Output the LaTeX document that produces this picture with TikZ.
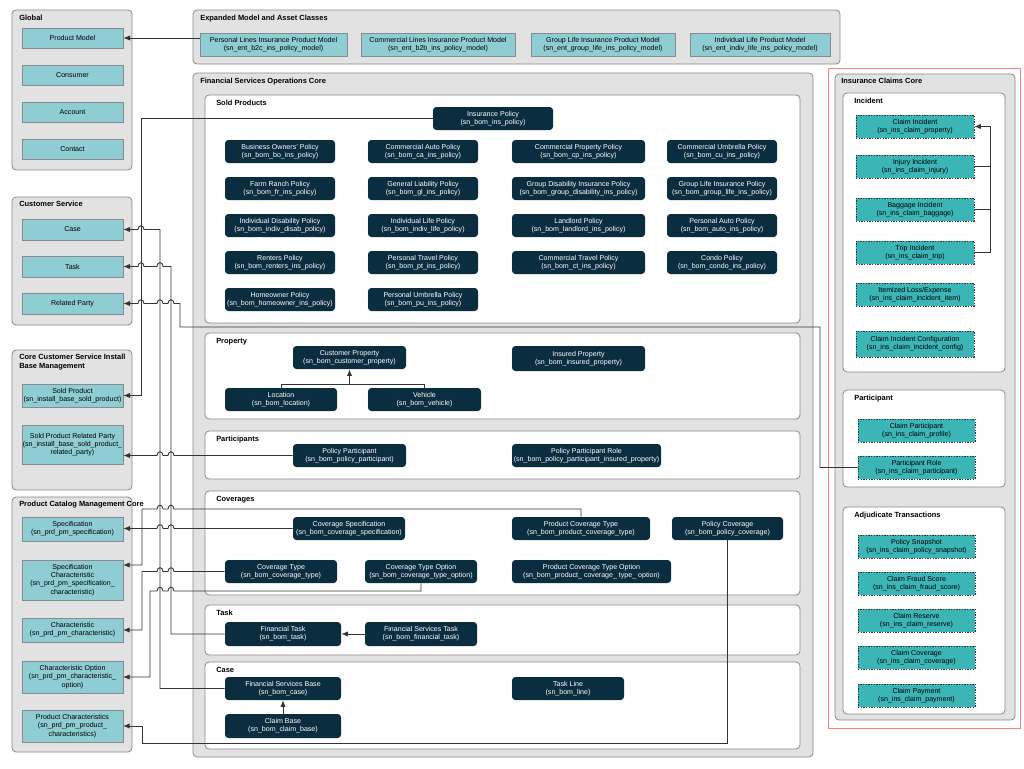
\documentclass[tikz,border=0pt]{standalone}
\usepackage{fontspec}
\setmainfont{Liberation Sans}
\usetikzlibrary{arrows.meta}
\definecolor{dk}{HTML}{0B2D40}
\definecolor{lt}{HTML}{8ECDD4}
\definecolor{ct}{HTML}{3BB5B5}
\definecolor{gp}{HTML}{E2E2E2}
\definecolor{bd}{HTML}{8A8A8A}
\definecolor{ln}{HTML}{333333}
\tikzset{
 grp/.style={draw=bd,fill=gp,rounded corners=3pt,line width=0.6pt},
 sub/.style={draw=bd,fill=white,rounded corners=3pt,line width=0.6pt},
 ttl/.style={anchor=north west,inner sep=0pt,font=\fontsize{5.6}{6.6}\selectfont\bfseries,align=left},
 base/.style={inner sep=0pt,align=center,font=\fontsize{5.3}{6.2}\selectfont},
 dkb/.style={base,fill=dk,text=white,rounded corners=2.5pt},
 ltb/.style={base,fill=lt,draw=bd,line width=0.5pt},
 ctb/.style={base,fill=ct,draw=ln,dashed,dash pattern=on 1pt off 1pt,line width=0.4pt},
 con/.style={draw=ln,line width=0.7pt},
 arr/.style={con,-{Latex[length=5pt,width=4pt]}},
}
\newcommand\bx[7]{\node[#1,minimum width={(#5-#3)*0.75pt},minimum height={(#6-#4)*0.75pt}] (#2) at ({(#3+#5)/2},{(#4+#6)/2}) {#7};}
\newcommand\hp[2]{-- ({#1+3},#2) .. controls ({#1+3},{#2-5}) and ({#1-3},{#2-5}) .. ({#1-3},#2)}
\begin{document}
\begin{tikzpicture}[x=0.75pt,y=-0.75pt]
\useasboundingbox[fill=white] (0,0) rectangle (1024,768);
% groups
\draw[grp] (12,10) rectangle (132,170); \node[ttl] (tg) at (19,15) {Global};
\draw[grp] (12,197) rectangle (132,325); \node[ttl] (tcs) at (19,201) {Customer Service};
\draw[grp] (12,350) rectangle (132,490); \node[ttl] (tib) at (19,354) {Core Customer Service Install\\Base Management};
\draw[grp] (12,497) rectangle (132,752); \node[ttl] (tpc) at (19,501) {Product Catalog Management Core};
\draw[grp] (193,10) rectangle (840,64); \node[ttl] (tex) at (200,15) {Expanded Model and Asset Classes};
\draw[grp] (193,73) rectangle (813,757); \node[ttl] (tfs) at (200,78) {Financial Services Operations Core};
\draw[red!50,line width=0.5pt] (828,68) rectangle (1020,728);
\draw[grp] (835,74) rectangle (1015,720); \node[ttl] (tic) at (841,78) {Insurance Claims Core};
\foreach \a/\b/\c/\d/\t in {205/95/800/323/Sold Products,205/333/800/419/Property,205/431/800/479/Participants,205/491/800/595/Coverages,205/605/800/655/Task,205/662/800/749/Case,843/93/1005/372/Incident,843/390/1005/487/Participant,843/507/1005/714/Adjudicate Transactions}{
 \draw[sub] (\a,\b) rectangle (\c,\d); \node[ttl] at (\a+11,\b+5) {\t};}
% light boxes
\bx{ltb}{pm}{22}{28}{123}{48}{Product Model}
\bx{ltb}{cons}{22}{65}{123}{85}{Consumer}
\bx{ltb}{acc}{22}{102}{123}{122}{Account}
\bx{ltb}{cont}{22}{139}{123}{159}{Contact}
\bx{ltb}{case}{22}{219}{123}{240}{Case}
\bx{ltb}{task}{22}{256}{123}{277}{Task}
\bx{ltb}{rp}{22}{293}{123}{314}{Related Party}
\bx{ltb}{sp}{22}{384}{123}{407}{Sold Product\\(sn\_install\_base\_sold\_product)}
\bx{ltb}{sprp}{22}{425}{123}{464}{Sold Product Related Party\\(sn\_install\_base\_sold\_product\_\\related\_party)}
\bx{ltb}{spec}{22}{517}{123}{541}{Specification\\(sn\_prd\_pm\_specification)}
\bx{ltb}{spch}{22}{560}{123}{600}{Specification\\Characteristic\\(sn\_prd\_pm\_specification\_\\characteristic)}
\bx{ltb}{char}{22}{618}{123}{642}{Characteristic\\(sn\_prd\_pm\_characteristic)}
\bx{ltb}{chop}{22}{661}{123}{693}{Characteristic Option\\(sn\_prd\_pm\_characteristic\_\\option)}
\bx{ltb}{prch}{22}{710}{123}{742}{Product Characteristics\\(sn\_prd\_pm\_product\_\\characteristics)}
\bx{ltb}{epl}{200}{33}{347}{56}{Personal Lines Insurance Product Model\\(sn\_ent\_b2c\_ins\_policy\_model)}
\bx{ltb}{ecl}{361}{33}{515}{56}{Commercial Lines Insurance Product Model\\(sn\_ent\_b2b\_ins\_policy\_model)}
\bx{ltb}{egl}{531}{33}{675}{56}{Group Life Insurance Product Model\\(sn\_ent\_group\_life\_ins\_policy\_model)}
\bx{ltb}{eil}{690}{33}{830}{56}{Individual Life Product Model\\(sn\_ent\_indiv\_life\_ins\_policy\_model)}
% dark boxes
\bx{dkb}{ip}{433}{107}{553}{130}{Insurance Policy\\(sn\_bom\_ins\_policy)}
\bx{dkb}{p11}{225}{140}{335}{163}{Business Owners' Policy\\(sn\_bom\_bo\_ins\_policy)}
\bx{dkb}{p12}{368}{140}{478}{163}{Commercial Auto Policy\\(sn\_bom\_ca\_ins\_policy)}
\bx{dkb}{p13}{512}{140}{645}{163}{Commercial Property Policy\\(sn\_bom\_cp\_ins\_policy)}
\bx{dkb}{p14}{667}{140}{777}{163}{Commercial Umbrella Policy\\(sn\_bom\_cu\_ins\_policy)}
\bx{dkb}{p21}{225}{177}{335}{200}{Farm Ranch Policy\\(sn\_bom\_fr\_ins\_policy)}
\bx{dkb}{p22}{368}{177}{478}{200}{General Liability Policy\\(sn\_bom\_gl\_ins\_policy)}
\bx{dkb}{p23}{512}{177}{645}{200}{Group Disability Insurance Policy\\(sn\_bom\_group\_disability\_ins\_policy)}
\bx{dkb}{p24}{667}{177}{777}{200}{Group Life Insurance Policy\\(sn\_bom\_group\_life\_ins\_policy)}
\bx{dkb}{p31}{225}{214}{335}{237}{Individual Disability Policy\\(sn\_bom\_indiv\_disab\_policy)}
\bx{dkb}{p32}{368}{214}{478}{237}{Individual Life Policy\\(sn\_bom\_indiv\_life\_policy)}
\bx{dkb}{p33}{512}{214}{645}{237}{Landlord Policy\\(sn\_bom\_landlord\_ins\_policy)}
\bx{dkb}{p34}{667}{214}{777}{237}{Personal Auto Policy\\(sn\_bom\_auto\_ins\_policy)}
\bx{dkb}{p41}{225}{251}{335}{274}{Renters Policy\\(sn\_bom\_renters\_ins\_policy)}
\bx{dkb}{p42}{368}{251}{478}{274}{Personal Travel Policy\\(sn\_bom\_pt\_ins\_policy)}
\bx{dkb}{p43}{512}{251}{645}{274}{Commercial Travel Policy\\(sn\_bom\_ct\_ins\_policy)}
\bx{dkb}{p44}{667}{251}{777}{274}{Condo Policy\\(sn\_bom\_condo\_ins\_policy)}
\bx{dkb}{p51}{225}{288}{335}{311}{Homeowner Policy\\(sn\_bom\_homeowner\_ins\_policy)}
\bx{dkb}{p52}{368}{288}{478}{311}{Personal Umbrella Policy\\(sn\_bom\_pu\_ins\_policy)}
\bx{dkb}{cprop}{293}{346}{406}{369}{Customer Property\\(sn\_bom\_customer\_property)}
\bx{dkb}{iprop}{512}{346}{645}{371}{Insured Property\\(sn\_bom\_insured\_property)}
\bx{dkb}{loc}{225}{388}{337}{411}{Location\\(sn\_bom\_location)}
\bx{dkb}{veh}{368}{388}{481}{411}{Vehicle\\(sn\_bom\_vehicle)}
\bx{dkb}{ppart}{293}{444}{406}{467}{Policy Participant\\(sn\_bom\_policy\_participant)}
\bx{dkb}{pprole}{512}{444}{661}{467}{Policy Participant Role\\(sn\_bom\_policy\_participant\_insured\_property)}
\bx{dkb}{covspec}{293}{517}{405}{540}{Coverage Specification\\(sn\_bom\_coverage\_specification)}
\bx{dkb}{pct}{512}{517}{650}{540}{Product Coverage Type\\(sn\_bom\_product\_coverage\_type)}
\bx{dkb}{pcov}{672}{517}{783}{540}{Policy Coverage\\(sn\_bom\_policy\_coverage)}
\bx{dkb}{ctype}{225}{560}{337}{583}{Coverage Type\\(sn\_bom\_coverage\_type)}
\bx{dkb}{cto}{365}{560}{477}{583}{Coverage Type Option\\(sn\_bom\_coverage\_type\_option)}
\bx{dkb}{pcto}{512}{560}{671}{583}{Product Coverage Type Option\\(sn\_bom\_product\_ coverage\_ type\_ option)}
\bx{dkb}{ftask}{225}{622}{341}{646}{Financial Task\\(sn\_bom\_task)}
\bx{dkb}{fstask}{365}{622}{477}{646}{Financial Services Task\\(sn\_bom\_financial\_task)}
\bx{dkb}{fsb}{225}{677}{341}{700}{Financial Services Base\\(sn\_bom\_case)}
\bx{dkb}{tline}{512}{677}{624}{700}{Task Line\\(sn\_bom\_line)}
\bx{dkb}{cbase}{225}{714}{341}{738}{Claim Base\\(sn\_bom\_claim\_base)}
% claims
\bx{ctb}{ci}{856}{115}{974}{138}{Claim Incident\\(sn\_ins\_claim\_property)}
\bx{ctb}{ii}{856}{155}{974}{178}{Injury Incident\\(sn\_ins\_claim\_injury)}
\bx{ctb}{bi}{856}{198}{974}{221}{Baggage Incident\\(sn\_ins\_claim\_baggage)}
\bx{ctb}{ti}{856}{241}{974}{264}{Trip Incident\\(sn\_ins\_claim\_trip)}
\bx{ctb}{il}{856}{283}{974}{306}{Itemized Loss/Expense\\(sn\_ins\_claim\_incident\_item)}
\bx{ctb}{cic}{856}{331}{974}{357}{Claim Incident Configuration\\(sn\_ins\_claim\_incident\_config)}
\bx{ctb}{cpart}{858}{419}{975}{442}{Claim Participant\\(sn\_ins\_claim\_profile)}
\bx{ctb}{prole}{858}{456}{975}{479}{Participant Role\\(sn\_ins\_claim\_participant)}
\bx{ctb}{ps}{858}{535}{975}{558}{Policy Snapshot\\(sn\_ins\_claim\_policy\_snapshot)}
\bx{ctb}{cfs}{858}{572}{975}{595}{Claim Fraud Score\\(sn\_ins\_claim\_fraud\_score)}
\bx{ctb}{cres}{858}{609}{975}{632}{Claim Reserve\\(sn\_ins\_claim\_reserve)}
\bx{ctb}{ccov}{858}{646}{975}{669}{Claim Coverage\\(sn\_ins\_claim\_coverage)}
\bx{ctb}{cpay}{858}{684}{975}{707}{Claim Payment\\(sn\_ins\_claim\_payment)}
% connectors
\draw[arr] (epl.west |- pm.east) -- (pm.east);
\draw[arr] (ip.west) -- (141,118.5) -- (141,395.5) -- (sp.east);
\draw[arr] (fsb.west) -- (160,688.5) -- (160,229.5) -- (144,229.5) .. controls (144,224.5) and (138,224.5) .. (138,229.5) -- (case.east);
\draw[arr] (ftask.west) -- (171,634) -- (171,266.5) \hp{160}{266.5} \hp{141}{266.5} -- (task.east);
\draw[arr] (prole.west) -- (820,467.5) -- (820,327) -- (180,327) -- (180,303.5) \hp{171}{303.5} \hp{160}{303.5} \hp{141}{303.5} -- (rp.east);
\draw[arr] (ppart.west) \hp{171}{455.5} \hp{160}{455.5} -- (sprp.east |- ppart.west);
\draw[arr] (covspec.west) \hp{171}{528.5} \hp{160}{528.5} -- (spec.east |- covspec.west);
\draw[arr] (pct.north) -- (581,509) \hp{171}{509} \hp{160}{509} -- (142,509) -- (142,565) -- (123,565);
\draw[arr] (ctype.west) \hp{171}{571.5} \hp{160}{571.5} -- (142,571.5) -- (142,630) -- (123,630);
\draw[arr] (cto.south) -- (421,591) \hp{171}{591} \hp{160}{591} -- (150,591) -- (150,677) -- (123,677);
\draw[arr] (pcov.south) -- (727.5,743) -- (142,743) -- (142,726) -- (123,726);
\draw[arr] (fstask.west) -- (ftask.east);
\draw[arr] (cbase.north) -- (fsb.south);
\draw[con] (loc.north) -- (281,384) -- (424.5,384) -- (veh.north);
\draw[arr] (349.5,384) -- (cprop.south);
\draw[con] (ii.east) -- (990,166.5);
\draw[con] (bi.east) -- (990,209.5);
\draw[arr] (ti.east) -- (990,252.5) -- (990,126.5) -- (ci.east);
\end{tikzpicture}
\end{document}
